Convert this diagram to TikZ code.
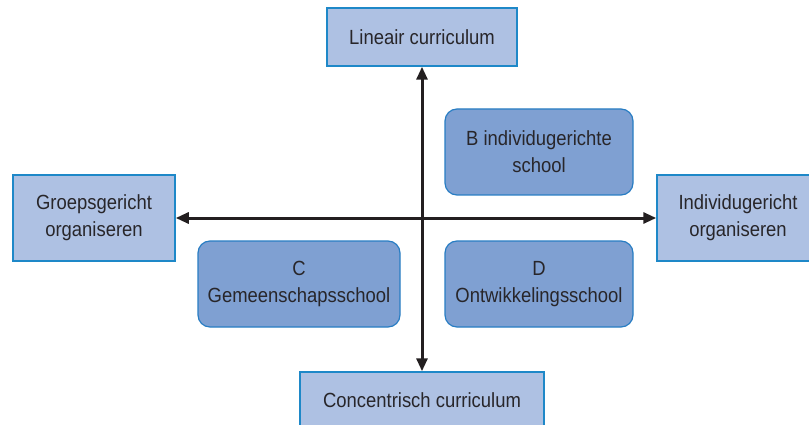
\documentclass[tikz,border=0pt]{standalone}
\usepackage{fontspec}
\setmainfont{Liberation Sans}[FakeStretch=0.9]
\usetikzlibrary{arrows.meta}
\definecolor{lightfill}{RGB}{174,193,227}
\definecolor{lightdraw}{RGB}{30,136,200}
\definecolor{darkfill}{RGB}{127,160,210}
\definecolor{darkdraw}{RGB}{40,125,195}
\definecolor{txt}{RGB}{40,38,42}
\begin{document}
\begin{tikzpicture}[x=1pt,y=-1pt,
  every node/.style={font=\fontsize{20.5}{27}\selectfont, text=txt, align=center, inner sep=0pt},
  axisbox/.style={rectangle, fill=lightfill, draw=lightdraw, line width=1.5pt},
  schoolbox/.style={rectangle, rounded corners=12pt, fill=darkfill, draw=darkdraw, line width=1.2pt, minimum width=188pt, minimum height=86pt},
  axis/.style={line width=3pt, draw={rgb,255:red,35;green,31;blue,32}, {Triangle[length=13pt,width=11pt]}-{Triangle[length=13pt,width=11pt]}}
]
\useasboundingbox (0,0) rectangle (809,425);
\clip (0,0) rectangle (809,425);
\node[axisbox, minimum width=190pt, minimum height=58pt] (top) at (422,37) {Lineair curriculum};
\node[axisbox, minimum width=244pt, minimum height=56pt] (bottom) at (422,400) {Concentrisch curriculum};
\node[axisbox, minimum width=162pt, minimum height=86pt] (left) at (94,218) {Groepsgericht\\organiseren};
\node[axisbox, minimum width=162pt, minimum height=86pt] (right) at (738,218) {Individugericht\\organiseren};
\node[schoolbox] (B) at (539,152) {B individugerichte\\school};
\node[schoolbox, minimum width=202pt] (C) at (299,284) {C\\Gemeenschapsschool};
\node[schoolbox] (D) at (539,284) {D\\Ontwikkelingsschool};
\draw[axis] (left.east) -- (right.west);
\draw[axis] (top.south) -- (bottom.north);
\end{tikzpicture}
\end{document}
